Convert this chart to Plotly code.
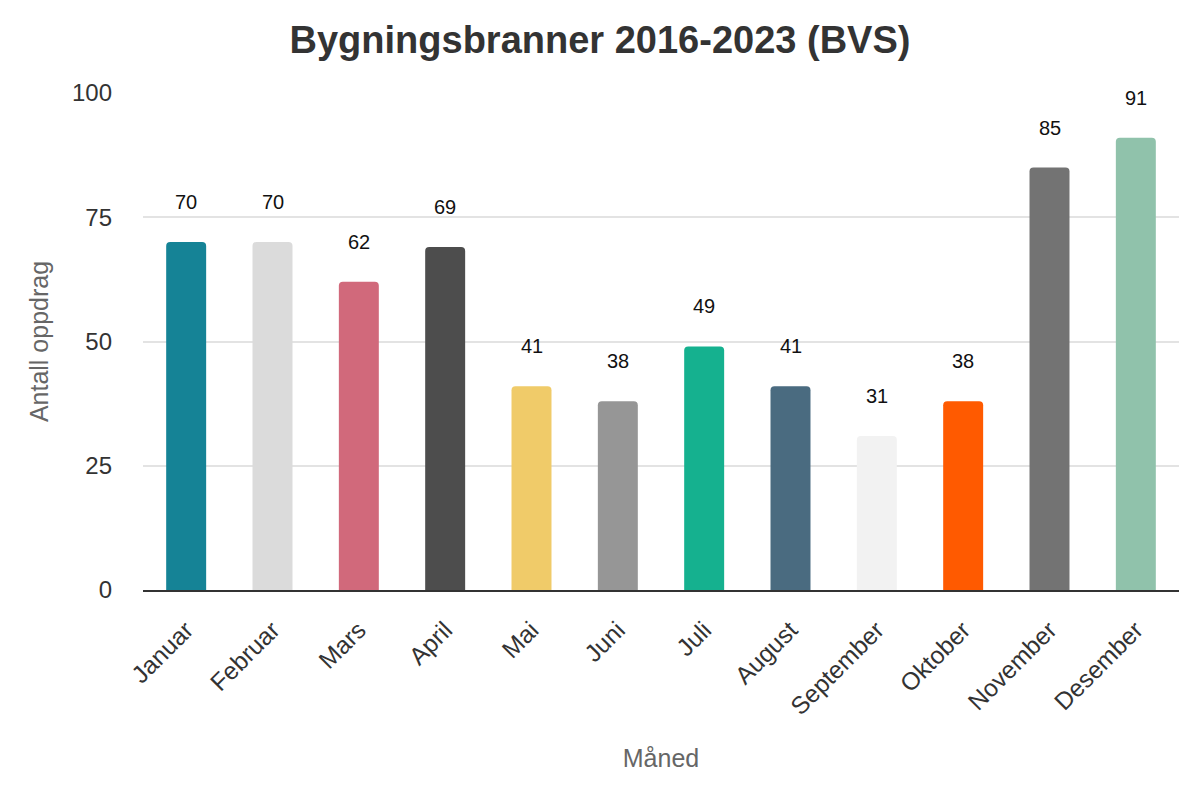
import plotly.graph_objects as go

months = ["Januar", "Februar", "Mars", "April", "Mai", "Juni", "Juli",
          "August", "September", "Oktober", "November", "Desember"]
values = [70, 70, 62, 69, 41, 38, 49, 41, 31, 38, 85, 91]
colors = ["#158396", "#dbdbdb", "#d1697b", "#4d4d4d", "#f0cb69", "#969696",
          "#15b18f", "#4a6b80", "#f2f2f2", "#ff5a00", "#737373", "#90c2ab"]
y_ticks = [0, 25, 50, 75, 100]

FONT = "Liberation Sans, Arial, sans-serif"

fig = go.Figure()
fig.add_trace(go.Bar(
    x=months, y=values,
    marker=dict(color=colors, line=dict(width=0), cornerradius=4),
    hoverinfo="x+y",
))

for m, v in zip(months, values):
    fig.add_annotation(
        x=m, y=v, text=str(v), showarrow=False,
        yanchor="bottom", yshift=27,
        font=dict(family=FONT, size=20, color="#111111"),
    )

fig.update_layout(
    width=1200, height=800,
    paper_bgcolor="white", plot_bgcolor="white",
    margin=dict(l=143, r=21, t=93, b=210),
    bargap=0.537,
    showlegend=False,
    title=dict(
        text="<b>Bygningsbranner 2016-2023 (BVS)</b>",
        x=0.5, xanchor="center", y=0.951, yanchor="middle",
        font=dict(family=FONT, size=38, color="#333333"),
    ),
    font=dict(family=FONT),
)

fig.update_xaxes(
    tickangle=-45,
    tickfont=dict(family=FONT, size=24.5, color="#333333"),
    showline=True, linecolor="#333333", linewidth=2,
    showgrid=False, ticks="",
    ticklabelstandoff=14,
    title=dict(text="Måned", font=dict(family=FONT, size=25, color="#666666"), standoff=30),
)

fig.update_yaxes(
    range=[0, 100],
    tickvals=y_ticks,
    tickfont=dict(family=FONT, size=24, color="#333333"),
    showgrid=True, gridcolor="#e3e3e3", gridwidth=2,
    zeroline=False, showline=False, ticks="",
    ticklabelstandoff=30,
    title=dict(text="Antall oppdrag", font=dict(family=FONT, size=25, color="#666666"), standoff=16),
)

fig.write_html("out.html")
